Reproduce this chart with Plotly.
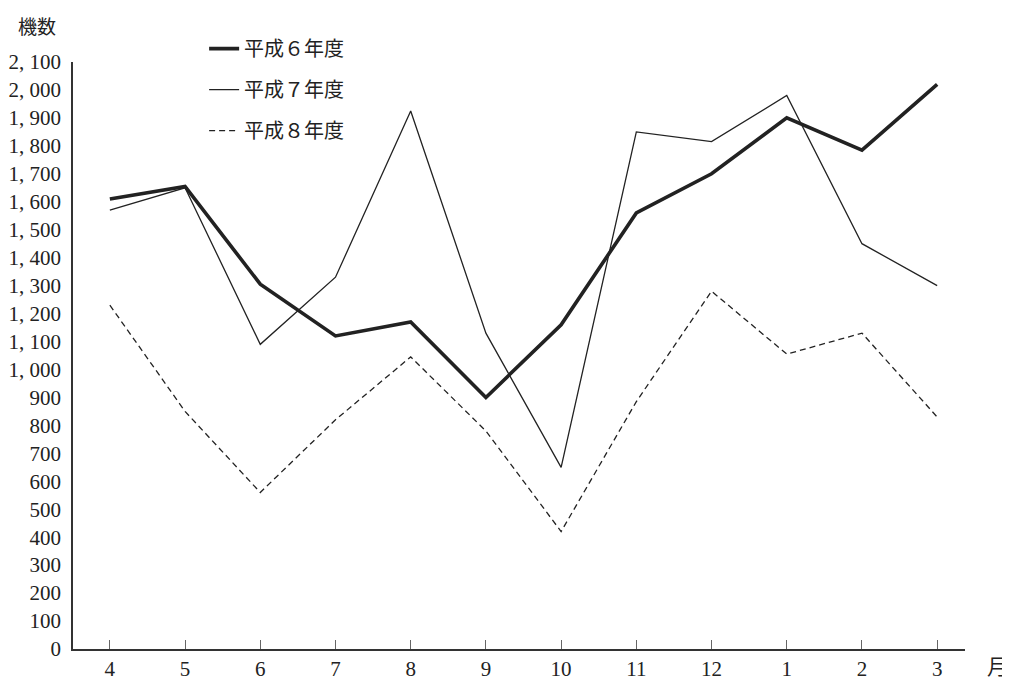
import plotly.graph_objects as go

months = ["4", "5", "6", "7", "8", "9", "10", "11", "12", "1", "2", "3"]
h6 = [1610, 1655, 1305, 1120, 1170, 900, 1160, 1560, 1700, 1900, 1785, 2020]
h7 = [1570, 1650, 1090, 1330, 1925, 1130, 650, 1850, 1815, 1980, 1450, 1300]
h8 = [1230, 850, 560, 820, 1045, 780, 420, 885, 1280, 1055, 1130, 830]
series_names = ["平成６年度", "平成７年度", "平成８年度"]
yticks = list(range(0, 2101, 100))
ytick_text = [f"{v // 1000}, {v % 1000:03d}" if v >= 1000 else str(v) for v in yticks]

x = list(range(len(months)))
col = "#222222"
fig = go.Figure()
fig.add_trace(go.Scatter(x=x, y=h6, mode="lines", name=series_names[0],
                         line=dict(color=col, width=3.6), legendgroup="a"))
fig.add_trace(go.Scatter(x=x, y=h7, mode="lines", name=series_names[1],
                         line=dict(color=col, width=1.3), legendgroup="b"))
fig.add_trace(go.Scatter(x=x, y=h8, mode="lines", name=series_names[2],
                         line=dict(color=col, width=1.3, dash="6px,4px"), legendgroup="c"))

fig.update_layout(
    width=1010, height=681,
    margin=dict(l=65, r=53, t=54, b=40, autoexpand=False),
    paper_bgcolor="white", plot_bgcolor="white",
    font=dict(family="Liberation Serif", size=20, color="#222"),
    showlegend=True,
    legend=dict(x=0.147, y=1.056, xanchor="left", yanchor="top",
                font=dict(family="Noto Sans CJK JP", size=20, color="#222"),
                bgcolor="rgba(0,0,0,0)", tracegroupgap=12),
    xaxis=dict(range=[-0.49, 11.37], tickvals=x, ticktext=months,
               showgrid=False, zeroline=False, showline=True, linecolor="#333",
               linewidth=1.5, ticks="inside", ticklen=9, tickcolor="#666",
               tickfont=dict(family="Liberation Serif", size=21), automargin=False),
    yaxis=dict(range=[0, 2100], tickvals=yticks, ticktext=ytick_text,
               showgrid=False, zeroline=False, showline=True, linecolor="#333",
               linewidth=1.5, ticks="", ticklabelstandoff=6, automargin=False,
               tickfont=dict(family="Liberation Serif", size=21)),
    annotations=[
        dict(text="機数", xref="paper", yref="paper", x=-0.064, y=1.063,
             xanchor="left", yanchor="middle", showarrow=False,
             font=dict(family="Noto Sans CJK JP", size=19, color="#222")),
        dict(text="月", xref="paper", yref="paper", x=1.036, y=-0.027,
             xanchor="center", yanchor="middle", showarrow=False,
             font=dict(family="Noto Sans CJK JP", size=21, color="#222")),
    ],
)
fig.write_html("out.html")
